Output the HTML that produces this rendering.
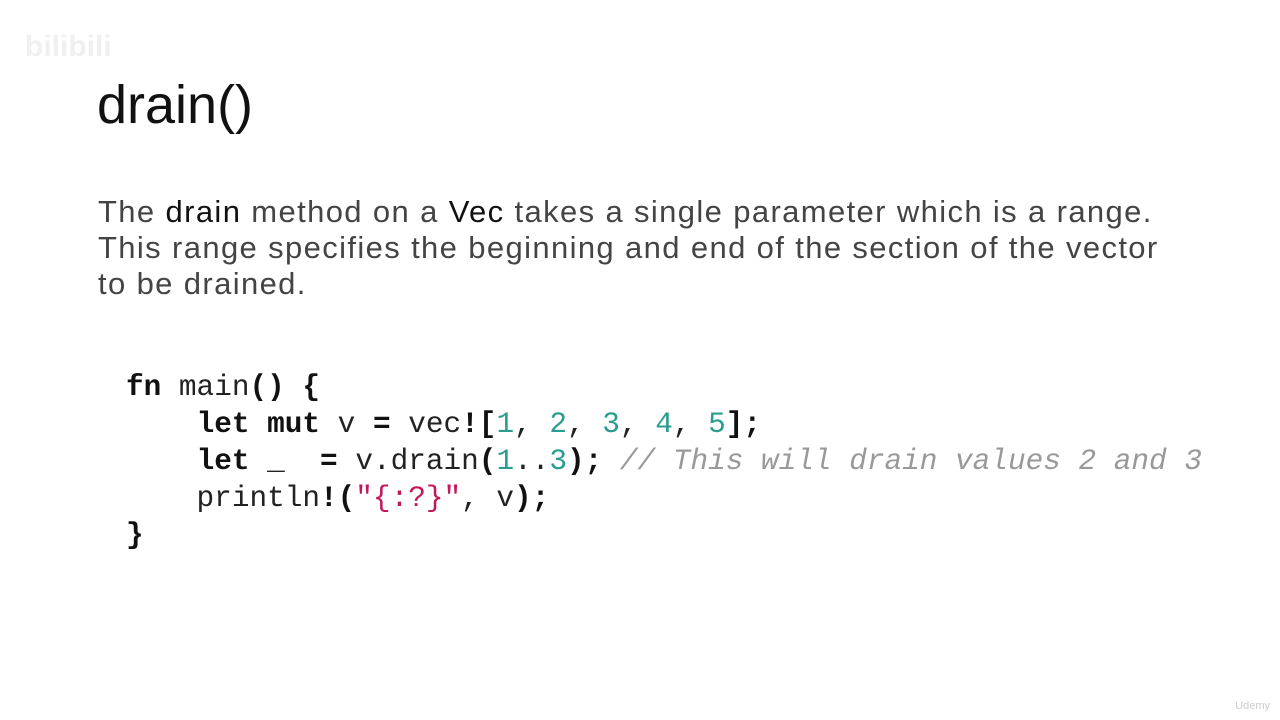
<!DOCTYPE html>
<html><head><meta charset="utf-8"><style>
html,body{margin:0;padding:0;background:#fff;width:1280px;height:720px;overflow:hidden;position:relative;font-family:"Liberation Sans",sans-serif}
.t{position:absolute;left:97px;top:75px;font-size:54px;color:#111;line-height:60px}
.p{position:absolute;left:98px;top:194px;font-size:31px;letter-spacing:1.37px;color:#444;line-height:36px;white-space:nowrap}
.p b{font-weight:normal;color:#111}
pre{position:absolute;left:126px;top:369px;margin:0;font-family:"Liberation Mono",monospace;font-size:29.4px;line-height:37px;color:#222}
.k{font-weight:bold;color:#111}.n{color:#2a9d8f}.s{color:#c2185b}.c{color:#999;font-style:italic}
.wm{position:absolute;left:25px;top:30px;font-size:30px;color:#f0f0f0;font-weight:bold}
.ud{position:absolute;right:10px;bottom:8px;font-size:11px;color:#ccc}
</style></head><body>
<div class="wm">bilibili</div>
<div class="t">drain()</div>
<div class="p">The <b>drain</b> method on a <b>Vec</b> takes a single parameter which is a range.<br>This range specifies the beginning and end of the section of the vector<br>to be drained.</div>
<pre><span class="k">fn</span> main<span class="k">()</span> <span class="k">{</span>
    <span class="k">let mut</span> v <span class="k">=</span> vec<span class="k">![</span><span class="n">1</span>, <span class="n">2</span>, <span class="n">3</span>, <span class="n">4</span>, <span class="n">5</span><span class="k">];</span>
    <span class="k">let</span> _  <span class="k">=</span> v.drain<span class="k">(</span><span class="n">1</span>..<span class="n">3</span><span class="k">);</span> <span class="c">// This will drain values 2 and 3</span>
    println<span class="k">!(</span><span class="s">"{:?}"</span>, v<span class="k">);</span>
<span class="k">}</span></pre>
<div class="ud">Udemy</div>
</body></html>
